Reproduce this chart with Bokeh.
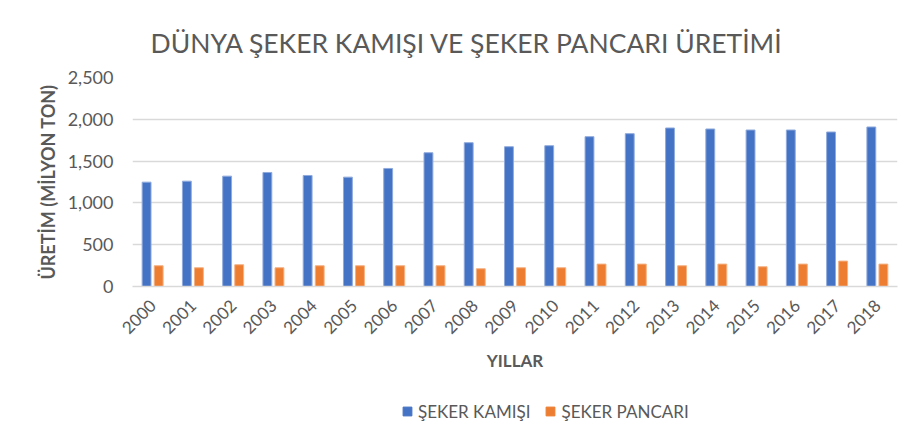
from math import pi
from bokeh.plotting import figure
from bokeh.layouts import column
from bokeh.models import FactorRange, FixedTicker, NumeralTickFormatter, Legend, LegendItem, ColumnDataSource, Range1d
from bokeh.transform import dodge
from bokeh.embed import file_html
from bokeh.resources import INLINE

years = [str(y) for y in range(2000, 2019)]
seker_kamisi = [1248, 1260, 1320, 1364, 1328, 1308, 1412, 1600, 1720, 1672, 1684, 1792, 1828, 1896, 1884, 1872, 1872, 1848, 1908]
seker_pancari = [248, 224, 260, 224, 248, 248, 248, 248, 212, 224, 224, 268, 268, 248, 268, 236, 268, 304, 268]
y_ticks = [0, 500, 1000, 1500, 2000, 2500]

src = ColumnDataSource(dict(year=years, cane=seker_kamisi, beet=seker_pancari))

FONT = "Lato"
GRAY = "#595959"
BLUE, BLUE_EDGE = "#4472C4", "#8FAADC"
ORANGE, ORANGE_EDGE = "#ED7D31", "#F4B183"

xr = FactorRange(*years, range_padding=0)
p = figure(width=910, height=390, x_range=xr,
           y_range=(0, 2500), output_backend="svg", toolbar_location=None,
           title="DÜNYA ŞEKER KAMIŞI VE ŞEKER PANCARI ÜRETİMİ",
           min_border_left=132, min_border_right=13, min_border_top=77, min_border_bottom=104)
p.outline_line_color = None

p.title.align = "left"
p.title.offset = 18
p.title.standoff = 38
p.title.text_font = FONT
p.title.text_font_size = "26.5px"
p.title.text_font_style = "normal"
p.title.text_color = GRAY

p.vbar(x=dodge("year", -0.15, range=xr), top="cane", width=0.22, source=src,
       fill_color=BLUE, line_color=BLUE_EDGE, line_width=1)
p.vbar(x=dodge("year", 0.15, range=xr), top="beet", width=0.22, source=src,
       fill_color=ORANGE, line_color=ORANGE_EDGE, line_width=1)

p.xgrid.grid_line_color = None
p.ygrid.grid_line_color = "#D9D9D9"
p.ygrid.grid_line_width = 1.5

p.yaxis.ticker = FixedTicker(ticks=y_ticks)
p.yaxis.formatter = NumeralTickFormatter(format="0,0")
p.yaxis.axis_line_color = None
p.yaxis.major_tick_line_color = None
p.yaxis.minor_tick_line_color = None
p.yaxis.major_label_standoff = 13
p.yaxis.major_label_text_font = FONT
p.yaxis.major_label_text_font_size = "18px"
p.yaxis.major_label_text_color = GRAY
p.yaxis.axis_label = "ÜRETİM (MİLYON TON)"
p.yaxis.axis_label_text_font = FONT
p.yaxis.axis_label_text_font_size = "18px"
p.yaxis.axis_label_text_font_style = "bold"
p.yaxis.axis_label_text_color = GRAY
p.yaxis.axis_label_standoff = 6

p.xaxis.axis_line_color = "#D9D9D9"
p.xaxis.axis_line_width = 1.5
p.xaxis.major_tick_line_color = None
p.xaxis.minor_tick_line_color = None
p.xaxis.major_label_orientation = pi / 4
p.xaxis.major_label_standoff = 10
p.xaxis.major_label_text_font = FONT
p.xaxis.major_label_text_font_size = "17px"
p.xaxis.major_label_text_color = GRAY
p.xaxis.axis_label = "YILLAR"
p.xaxis.axis_label_text_font = FONT
p.xaxis.axis_label_text_font_size = "17px"
p.xaxis.axis_label_text_font_style = "bold"
p.xaxis.axis_label_text_color = GRAY
p.xaxis.axis_label_standoff = 7

# legend strip below the chart (legend proxies use the same data, out of view)
lg = figure(width=910, height=58, x_range=xr, y_range=Range1d(100000, 100001),
            output_backend="svg", toolbar_location=None,
            x_axis_location=None, y_axis_location=None,
            min_border_left=0, min_border_right=0, min_border_top=0, min_border_bottom=0)
lg.outline_line_color = None
lg.grid.visible = False
l1 = lg.scatter(x="year", y="cane", marker="square", size=9, source=src,
                fill_color=BLUE, line_color=BLUE)
l2 = lg.scatter(x="year", y="beet", marker="square", size=9, source=src,
                fill_color=ORANGE, line_color=ORANGE)

legend = Legend(items=[LegendItem(label="ŞEKER KAMIŞI", renderers=[l1]),
                       LegendItem(label="ŞEKER PANCARI", renderers=[l2])],
                orientation="horizontal", location=(264, 26))
legend.border_line_color = None
legend.background_fill_alpha = 0
legend.padding = 0
legend.margin = 0
legend.spacing = 9
legend.glyph_width = 22
legend.glyph_height = 22
legend.label_standoff = 0
legend.label_text_font = FONT
legend.label_text_font_size = "17px"
legend.label_text_color = GRAY
legend.label_height = 9
lg.add_layout(legend, "center")

open("out.html", "w").write(file_html(column(p, lg, spacing=0), INLINE))
